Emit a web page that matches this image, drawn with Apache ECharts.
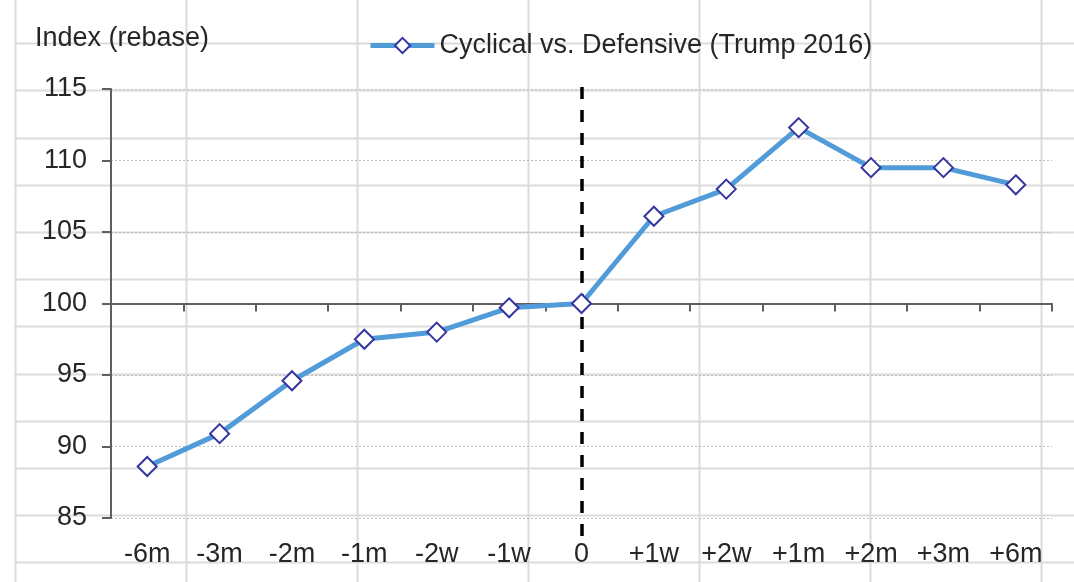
<!DOCTYPE html>
<html>
<head>
<meta charset="utf-8">
<script src="https://cdn.jsdelivr.net/npm/echarts@6/dist/echarts.min.js"></script>
<style>
  html, body { margin: 0; padding: 0; background: #ffffff; }
  #chart { width: 1074px; height: 582px; }
</style>
</head>
<body>
<div id="chart"></div>
<script>
// ---- data ----
const categories = ['-6m', '-3m', '-2m', '-1m', '-2w', '-1w', '0', '+1w', '+2w', '+1m', '+2m', '+3m', '+6m'];
const cyclicalVsDefensive = [88.6, 90.9, 94.6, 97.5, 98.0, 99.7, 100.0, 106.1, 108.0, 112.3, 109.5, 109.5, 108.3];
const seriesName = 'Cyclical vs. Defensive (Trump 2016)';
const yAxisTitle = 'Index (rebase)';
const yMin = 85, yMax = 115, yStep = 5;
const baseline = 100;          // level where the category axis crosses
const eventCategory = '0';     // dashed vertical marker

// ---- background spreadsheet cell lines (decoration) ----
const sheetCols = [];
for (let k = 0; k < 7; k++) sheetCols.push(14.5 + 171 * k);
const sheetRows = [];
for (let k = 0; k < 12; k++) sheetRows.push(Math.round(43.2 + 47.2 * k) + 0.5);

const FONT = 'Liberation Sans, Arial, Helvetica, sans-serif';
const FS = 27;
const TXT = '#262626';
const AX = '#5f5f5f';
const LINE = '#509bd8';

const graphics = [];
sheetCols.forEach(x => graphics.push({
  type: 'line', z: -10, silent: true,
  shape: { x1: Math.round(x) + 0.5, y1: 0, x2: Math.round(x) + 0.5, y2: 582 },
  style: { stroke: '#dcdcdc', lineWidth: 2 }
}));
sheetRows.forEach(y => graphics.push({
  type: 'line', z: -10, silent: true,
  shape: { x1: 14, y1: y, x2: 1074, y2: y },
  style: { stroke: '#dcdcdc', lineWidth: 2 }
}));

const chart = echarts.init(document.getElementById('chart'), null, { renderer: 'canvas' });
chart.setOption({
  animation: false,
  backgroundColor: 'transparent',
  graphic: graphics,
  title: {
    text: yAxisTitle,
    left: 35, top: 25, padding: 0,
    textStyle: { fontFamily: FONT, fontSize: FS, fontWeight: 'normal', color: TXT, lineHeight: FS }
  },
  legend: {
    data: [seriesName],
    left: 368, top: 32, padding: 0,
    itemWidth: 64, itemHeight: 19,
    lineStyle: { width: 5, color: LINE },
    textStyle: { fontFamily: FONT, fontSize: FS, color: TXT, lineHeight: FS },
    selectedMode: false
  },
  grid: [
    { left: 111, right: 22, top: 89, bottom: 64, containLabel: false },
    { left: 111, right: 22, top: 83, bottom: 46, containLabel: false }
  ],
  xAxis: [
    { // labels at the bottom
      type: 'category', gridIndex: 0, data: categories, position: 'bottom',
      axisLine: { show: false, onZero: false },
      axisTick: { show: false },
      axisLabel: { fontFamily: FONT, fontSize: FS, color: TXT, margin: 23, lineHeight: FS, interval: 0 },
      splitLine: { show: false }
    },
    { // axis line crossing at the baseline level
      type: 'category', gridIndex: 0, data: categories, position: 'bottom',
      axisLine: { show: true, onZero: true, onZeroAxisIndex: 1, lineStyle: { color: AX, width: 2 } },
      axisTick: { show: true, length: 8, inside: false, lineStyle: { color: AX, width: 2 } },
      axisLabel: { show: false },
      splitLine: { show: false }
    },
    { type: 'category', gridIndex: 1, data: categories, show: false }
  ],
  yAxis: [
    {
      type: 'value', gridIndex: 0, min: yMin, max: yMax, interval: yStep,
      axisLine: { show: true, lineStyle: { color: AX, width: 2 } },
      axisTick: { show: true, length: 9, inside: false, lineStyle: { color: AX, width: 2 } },
      axisLabel: { fontFamily: FONT, fontSize: FS, color: TXT, margin: 24 },
      splitLine: { show: true, lineStyle: { color: '#bdbdbd', width: 1, type: [2, 2] } }
    },
    { // hidden helper: same scale shifted so that 0 sits at the baseline level
      type: 'value', gridIndex: 0, show: false,
      min: yMin - baseline, max: yMax - baseline, splitLine: { show: false }
    },
    { type: 'value', gridIndex: 1, show: false, min: 0, max: 1, splitLine: { show: false } }
  ],
  series: [
    {
      name: seriesName, type: 'line', xAxisIndex: 0, yAxisIndex: 0,
      data: cyclicalVsDefensive, z: 5,
      symbol: 'diamond', symbolSize: 19,
      lineStyle: { color: LINE, width: 5 },
      itemStyle: { color: '#ffffff', borderColor: '#3535a0', borderWidth: 2 },
      emphasis: { disabled: true }
    },
    {
      type: 'line', xAxisIndex: 2, yAxisIndex: 2, data: [], z: 3, silent: true,
      markLine: {
        silent: true, symbol: ['none', 'none'], label: { show: false },
        lineStyle: { color: '#000000', width: 3.5, type: [12, 11] },
        emphasis: { disabled: true },
        data: [{ xAxis: categories.indexOf(eventCategory) }]
      }
    }
  ]
});
</script>
</body>
</html>
